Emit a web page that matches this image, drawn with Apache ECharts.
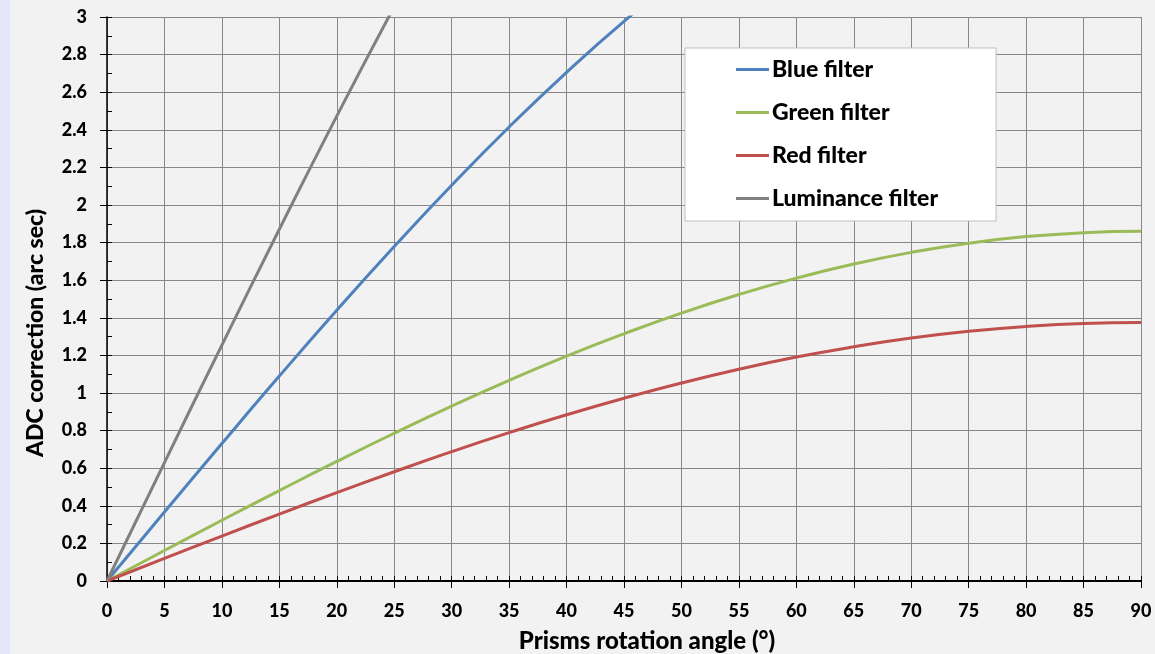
<!DOCTYPE html>
<html>
<head>
<meta charset="utf-8">
<script src="https://cdn.jsdelivr.net/npm/echarts@6/dist/echarts.min.js"></script>
<style>
  html, body { margin: 0; padding: 0; background: #e6e6fa; }
  #chart { position: absolute; left: 10px; top: 0; width: 1145px; height: 654px; background: #f2f2f2; }
</style>
</head>
<body>
<div id="chart"></div>
<script>
// prism rotation angles (deg)
let angles = [0, 5, 10, 15, 20, 25, 30, 35, 40, 45, 50, 55, 60, 65, 70, 75, 80, 85, 90];

// ADC correction (arc sec)
let blueValues = [0, 0.367, 0.731, 1.090, 1.440, 1.779, 2.105, 2.415, 2.706, 2.977, 3.225];
let greenValues = [0, 0.162, 0.323, 0.481, 0.636, 0.786, 0.930, 1.067, 1.196, 1.315, 1.425, 1.524, 1.611, 1.686, 1.748, 1.797, 1.832, 1.853, 1.860];
let redValues = [0, 0.120, 0.239, 0.356, 0.470, 0.581, 0.688, 0.789, 0.884, 0.972, 1.053, 1.126, 1.191, 1.246, 1.292, 1.328, 1.354, 1.370, 1.375];
let lumValues = [0, 0.630, 1.255, 1.871, 2.473, 3.055, 3.615];

let seriesNames = ['Blue filter', 'Green filter', 'Red filter', 'Luminance filter'];
let seriesColors = ['#4f81bd', '#9bbb59', '#c0504d', '#808080'];

let font = 'Lato';
let weight = 900;

function pairs(vals) {
    return vals.map((v, i) => [angles[i], v]);
}

let chart = echarts.init(document.getElementById('chart'));

let gridLine = { show: true, lineStyle: { color: '#878787', width: 1 } };

let options = {
    animation: false,
    backgroundColor: '#f2f2f2',
    grid: { left: 97, right: 14, top: 17, bottom: 73, containLabel: false, outerBoundsMode: 'none' },
    legend: {
        orient: 'vertical',
        left: 675,
        top: 48,
        padding: [10, 58, 11, 51],
        icon: 'rect',
        itemWidth: 33,
        itemHeight: 3,
        itemGap: 20,
        backgroundColor: '#fff',
        borderColor: '#bfbfbf',
        borderWidth: 1,
        textStyle: { fontFamily: font, fontWeight: weight, fontSize: 23, color: '#000', lineHeight: 23, padding: [0, 0, 0, -2] },
        data: seriesNames
    },
    xAxis: [
        {
            type: 'value',
            min: 0, max: 90, interval: 5,
            name: 'Prisms rotation angle (°)',
            nameLocation: 'middle',
            nameGap: 48,
            nameTextStyle: { fontFamily: font, fontWeight: weight, fontSize: 24, color: '#000', padding: [0, 0, 0, 46] },
            axisLine: { onZero: false, lineStyle: { color: '#000', width: 2 } },
            axisTick: { show: true, inside: false, length: 7, lineStyle: { color: '#000' } },
            axisLabel: { margin: 21, fontFamily: font, fontWeight: weight, fontSize: 18, color: '#000' },
            splitLine: gridLine
        },
        {
            // minor ticks pointing inward
            type: 'value',
            position: 'bottom',
            min: 0, max: 90, interval: 1,
            axisLine: { show: false, onZero: false },
            axisTick: { show: true, inside: true, length: 5, lineStyle: { color: '#000' } },
            axisLabel: { show: false },
            splitLine: { show: false }
        }
    ],
    yAxis: [
        {
            type: 'value',
            min: 0, max: 3, interval: 0.2,
            name: 'ADC correction (arc sec)',
            nameLocation: 'middle',
            nameGap: 60,
            nameTextStyle: { fontFamily: font, fontWeight: weight, fontSize: 23, color: '#000', padding: [0, 68, 0, 0] },
            axisLine: { show: true, onZero: false, lineStyle: { color: '#000', width: 1.5 } },
            axisTick: { show: true, inside: false, length: 7, lineStyle: { color: '#000' } },
            axisLabel: { margin: 20, fontFamily: font, fontWeight: weight, fontSize: 18, color: '#000' },
            splitLine: gridLine
        },
        {
            type: 'value',
            position: 'left',
            min: 0, max: 3, interval: 0.1,
            axisLine: { show: false, onZero: false },
            axisTick: { show: true, inside: true, length: 5, lineStyle: { color: '#000' } },
            axisLabel: { show: false },
            splitLine: { show: false }
        }
    ],
    series: [blueValues, greenValues, redValues, lumValues].map((vals, i) => ({
        name: seriesNames[i],
        type: 'line',
        xAxisIndex: 0,
        yAxisIndex: 0,
        smooth: true,
        symbol: 'none',
        clip: true,
        color: seriesColors[i],
        lineStyle: { color: seriesColors[i], width: 3 },
        data: pairs(vals)
    }))
};

chart.setOption(options);
</script>
</body>
</html>
